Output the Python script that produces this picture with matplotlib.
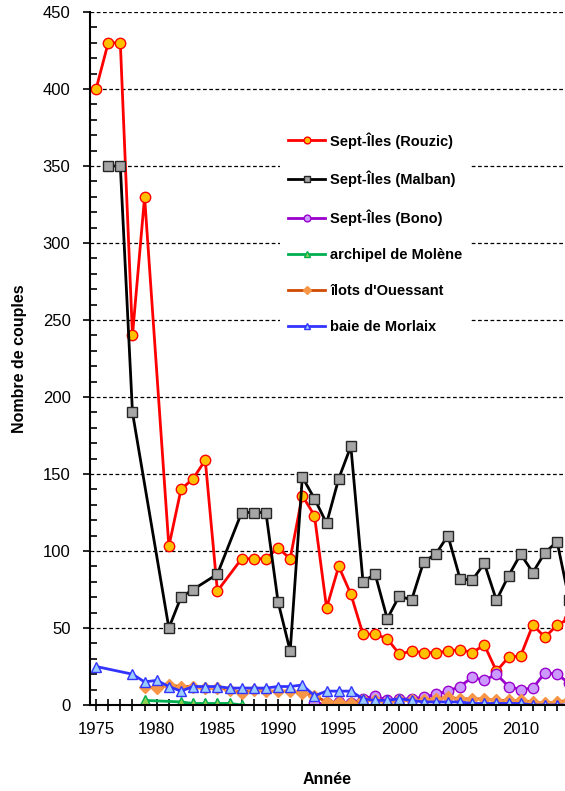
import numpy as np
import matplotlib as mpl
mpl.use("Agg")
import matplotlib.pyplot as plt
from matplotlib.ticker import MultipleLocator

mpl.rc("font", family=["Liberation Sans", "DejaVu Sans"])

# data
rouzic_years = [1975, 1976, 1977, 1978, 1979, 1981, 1982, 1983, 1984, 1985] + list(range(1987, 2015))
rouzic = [400, 430, 430, 240, 330, 103, 140, 147, 159, 74,
          95, 95, 95, 102, 95, 136, 123, 63, 90, 72,
          46, 46, 43, 33, 35, 34, 34, 35, 36, 34,
          39, 22, 31, 32, 52, 44, 52, 56]

malban_years = [1976, 1977, 1978, 1981, 1982, 1983, 1985] + list(range(1987, 2015))
malban = [350, 350, 190, 50, 70, 75, 85,
          125, 125, 125, 67, 35, 148, 134, 118, 147, 168,
          80, 85, 56, 71, 68, 93, 98, 110, 82, 81,
          92, 68, 84, 98, 86, 99, 106, 68]

bono_years = list(range(1993, 2015))
bono = [1, 1, 2, 1, 4, 6, 3, 4, 4, 5, 7, 9, 12, 18, 16, 20, 12, 10, 11, 21, 20, 14]

molene_years = [1979, 1982, 1983, 1984, 1985, 1986, 1987]
molene = [3, 2, 1, 1, 1, 1, 0]

ouessant_years = list(range(1979, 2015))
ouessant = [12, 11, 13, 12, 12, 11, 11, 10, 8, 10, 9, 9, 9, 8, 6, 2, 2, 1,
            3, 3, 2, 3, 3, 3, 4, 5, 4, 4, 4, 3, 3, 3, 2, 1, 2, 3]

morlaix_years = [1975] + list(range(1978, 2015))
morlaix = [25, 20, 15, 16, 12, 9, 12, 12, 12, 11, 11, 11, 11, 12, 12, 13,
           6, 9, 9, 9, 4, 3, 3, 4, 3, 2, 2, 2, 2, 1, 1, 1, 1, 1, 0, 0, 0, 0]

series = [
    ("Sept-Îles (Rouzic)", rouzic_years, rouzic, "#FF0000", "#FFC000", "#FF0000", "o"),
    ("Sept-Îles (Malban)", malban_years, malban, "#000000", "#A6A6A6", "#262626", "s"),
    ("Sept-Îles (Bono)", bono_years, bono, "#9900CC", "#CC99FF", "#9900CC", "o"),
    ("archipel de Molène", molene_years, molene, "#00B050", "#92D050", "#00B050", "^"),
    ("îlots d'Ouessant", ouessant_years, ouessant, "#D04A02", "#F79646", "#F79646", "D"),
    ("baie de Morlaix", morlaix_years, morlaix, "#3333FF", "#99CCFF", "#3333FF", "^"),
]

fig = plt.figure(figsize=(5.65, 7.91), dpi=100)
ax = fig.add_axes([90/565, 86/791, 475/565, 693/791])

for label, yrs, vals, lc, fc, ec, mk in series:
    ax.plot(yrs, vals, "-", color=lc, lw=2, marker=mk, ms=7.5 if mk != "D" else 6,
            mfc=fc, mec=ec, mew=1, label=label, clip_on=True)

ax.set_xlim(1974.5, 2013.65)
ax.set_ylim(0, 450)

ax.yaxis.set_major_locator(MultipleLocator(50))
ax.yaxis.set_minor_locator(MultipleLocator(10))
ax.xaxis.set_major_locator(MultipleLocator(5))
ax.xaxis.set_minor_locator(MultipleLocator(1))

ax.grid(axis="y", which="major", color="black", ls=(0, (3, 2)), lw=0.9)
ax.set_axisbelow(True)

ax.spines["top"].set_visible(False)
ax.spines["right"].set_visible(False)
ax.spines["left"].set_linewidth(1.5)
ax.spines["bottom"].set_linewidth(1.5)

ax.tick_params(axis="y", which="major", direction="out", length=5, width=1.2, labelsize=12, pad=9)
ax.tick_params(axis="y", which="minor", direction="in", length=5, width=1.2)
ax.tick_params(axis="x", which="both", direction="inout", length=9, width=1.2, labelsize=12, pad=8)

ax.set_xlabel("Année", fontsize=11.5, fontweight="bold", labelpad=25)
ax.set_ylabel("Nombre de couples", fontsize=11.5, fontweight="bold", labelpad=11)

leg = ax.legend(loc="upper left", bbox_to_anchor=(280/565, 1 - 124/791), bbox_transform=fig.transFigure,
                frameon=True, prop={"weight": "bold", "size": 10.5}, markerscale=0.65,
                handlelength=2.55, handletextpad=0.35, labelspacing=1.52, borderpad=0.55,
                borderaxespad=0, fancybox=False)
leg.get_frame().set_facecolor("white")
leg.get_frame().set_edgecolor("none")
leg.get_frame().set_alpha(1)

fig.savefig("out.png", dpi=100)
